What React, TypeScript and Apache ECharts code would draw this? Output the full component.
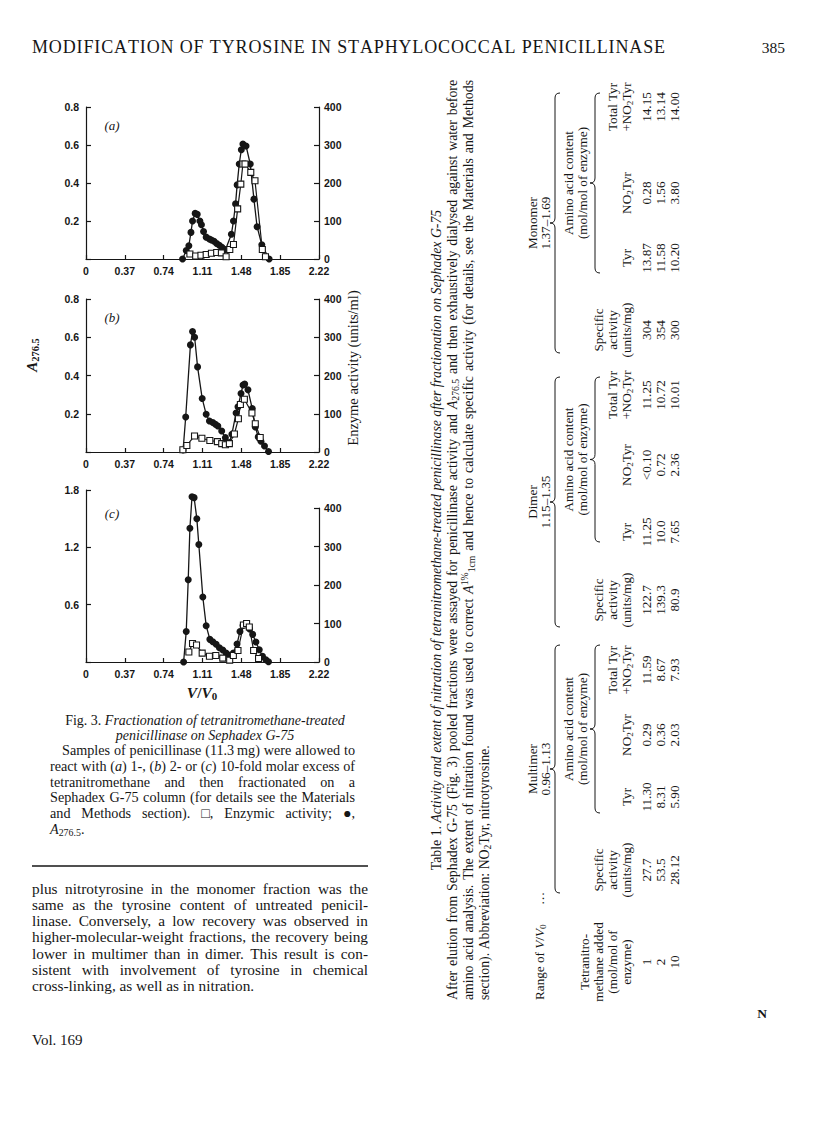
import React, { useEffect, useRef } from "react";
import * as echarts from "echarts";

// ---------------- data ----------------
const X_MAX = 2.22;
const X_INTERVAL = 0.37;
const leftMaxAB = 0.8;
const leftIntervalAB = 0.2;
const leftMaxC = 1.8;
const leftIntervalC = 0.6;
const rightMax = 400;
const rightInterval = 100;

// panel (a): A276.5 (filled circles) and enzyme activity (open squares)
const panelA_A276: number[][] = [
  [0.92, 0], [0.955, 0.045], [0.98, 0.07], [1.0, 0.14], [1.015, 0.2], [1.04, 0.24],
  [1.06, 0.235], [1.085, 0.2], [1.1, 0.18], [1.12, 0.145], [1.145, 0.115], [1.175, 0.105],
  [1.195, 0.1], [1.22, 0.093], [1.245, 0.082], [1.27, 0.072], [1.295, 0.062], [1.33, 0.05],
  [1.385, 0.13], [1.405, 0.2], [1.425, 0.29], [1.44, 0.39], [1.46, 0.5], [1.48, 0.575],
  [1.495, 0.605], [1.525, 0.595], [1.565, 0.5], [1.6, 0.315], [1.63, 0.17], [1.675, 0.075],
  [1.745, 0.0],
];
const panelA_activity: number[][] = [
  [0.99, 13], [1.045, 8], [1.095, 10], [1.145, 12], [1.195, 15], [1.245, 17], [1.29, 16],
  [1.335, 6], [1.37, 25], [1.405, 38], [1.445, 132], [1.475, 197], [1.495, 250], [1.515, 250],
  [1.57, 228], [1.61, 206], [1.68, 25], [1.71, 6],
];

// panel (b)
const panelB_A276: number[][] = [
  [0.925, 0.01], [0.95, 0.183], [0.995, 0.56], [1.015, 0.63], [1.035, 0.6], [1.063, 0.445],
  [1.107, 0.28], [1.145, 0.197], [1.176, 0.162], [1.208, 0.154], [1.233, 0.145], [1.256, 0.136],
  [1.293, 0.11], [1.328, 0.075], [1.366, 0.05], [1.39, 0.093], [1.43, 0.204], [1.448, 0.236],
  [1.477, 0.306], [1.496, 0.35], [1.512, 0.355], [1.543, 0.325], [1.584, 0.227], [1.613, 0.131],
  [1.641, 0.079], [1.667, 0.056], [1.701, 0.031], [1.739, 0.003],
];
const panelB_activity: number[][] = [
  [0.923, 6], [0.961, 17], [1.034, 42], [1.104, 36], [1.18, 30], [1.252, 27], [1.293, 22],
  [1.328, 19], [1.366, 22], [1.414, 47], [1.452, 87], [1.471, 124], [1.509, 138], [1.581, 102],
  [1.613, 74], [1.66, 38],
];

// panel (c)
const panelC_A276: number[][] = [
  [0.93, 0], [0.955, 0.32], [0.974, 0.86], [0.99, 1.4], [1.01, 1.73], [1.03, 1.72],
  [1.056, 1.5], [1.075, 1.23], [1.113, 0.68], [1.145, 0.38], [1.18, 0.237], [1.208, 0.212],
  [1.24, 0.185], [1.271, 0.15], [1.303, 0.125], [1.335, 0.094], [1.366, 0.07], [1.404, 0.094],
  [1.439, 0.188], [1.467, 0.32], [1.496, 0.383], [1.528, 0.4], [1.559, 0.345], [1.588, 0.289],
  [1.619, 0.209], [1.651, 0.129], [1.682, 0.059], [1.714, 0.024], [1.739, 0.003],
];
const panelC_activity: number[][] = [
  [0.98, 26], [1.015, 48], [1.053, 44], [1.107, 23], [1.176, 15], [1.237, 17], [1.303, 10],
  [1.369, 5], [1.404, 17], [1.448, 30], [1.5, 96], [1.53, 100], [1.556, 91], [1.597, 30],
  [1.644, 9],
];

// table values
const tetranitromethaneAdded = ["1", "2", "10"];
const multimerSpecific = ["27.7", "53.5", "28.12"];
const multimerTyr = ["11.30", "8.31", "5.90"];
const multimerNO2Tyr = ["0.29", "0.36", "2.03"];
const multimerTotal = ["11.59", "8.67", "7.93"];
const dimerSpecific = ["122.7", "139.3", "80.9"];
const dimerTyr = ["11.25", "10.0", "7.65"];
const dimerNO2Tyr = ["<0.10", "0.72", "2.36"];
const dimerTotal = ["11.25", "10.72", "10.01"];
const monomerSpecific = ["304", "354", "300"];
const monomerTyr = ["13.87", "11.58", "10.20"];
const monomerNO2Tyr = ["0.28", "1.56", "3.80"];
const monomerTotal = ["14.15", "13.14", "14.00"];

// texts
const headerText = "MODIFICATION OF TYROSINE IN STAPHYLOCOCCAL PENICILLINASE";
const pageNumber = "385";
const captionTitle = [
  "{n|Fig. 3. }{i|Fractionation of tetranitromethane-treated}",
  "{i|penicillinase on Sephadex G-75}",
];
const captionLines = [
  "Samples of penicillinase (11.3\u2009mg) were allowed to",
  "react with ({i|a}) 1-, ({i|b}) 2- or ({i|c}) 10-fold molar excess of",
  "tetranitromethane and then fractionated on a",
  "Sephadex G-75 column (for details see the Materials",
  "and Methods section). \u25a1, Enzymic activity; \u25cf,",
  "{i|A}{sub|276.5}.",
];
const bodyLines = [
  "plus nitrotyrosine in the monomer fraction was the",
  "same as the tyrosine content of untreated penicil-",
  "linase. Conversely, a low recovery was observed in",
  "higher-molecular-weight fractions, the recovery being",
  "lower in multimer than in dimer. This result is con-",
  "sistent with involvement of tyrosine in chemical",
  "cross-linking, as well as in nitration.",
];
const tableTitle =
  "{n|Table 1. }{i|Activity and extent of nitration of tetranitromethane-treated penicillinase after fractionation on Sephadex G-75}";
const tableNote = [
  "After elution from Sephadex G-75 (Fig. 3) pooled fractions were assayed for penicillinase activity and {i|A}{sub|276.5} and then exhaustively dialysed against water before",
  "amino acid analysis. The extent of nitration found was used to correct {i|A}{sup|1%}{sub|1cm} and hence to calculate specific activity (for details, see the Materials and Methods",
  "section). Abbreviation: NO{sub|2}Tyr, nitrotyrosine.",
];

// ---------------- text helpers ----------------
const SERIF = "'Liberation Serif', 'Times New Roman', serif";
const INK = "#161616";
let measureCtx: CanvasRenderingContext2D | null = null;
function textWidth(t: string, font: string): number {
  if (!measureCtx) measureCtx = document.createElement("canvas").getContext("2d");
  measureCtx!.font = font;
  return measureCtx!.measureText(t).width;
}
type Seg = { t: string; s: string };
function parse(word: string): Seg[] {
  const segs: Seg[] = [];
  const re = /\{(\w+)\|([^}]*)\}/g;
  let last = 0;
  let m: RegExpExecArray | null;
  while ((m = re.exec(word))) {
    if (m.index > last) segs.push({ t: word.slice(last, m.index), s: "n" });
    segs.push({ t: m[2], s: m[1] });
    last = re.lastIndex;
  }
  if (last < word.length) segs.push({ t: word.slice(last), s: "n" });
  return segs;
}
function segStyle(key: string, size: number) {
  const small = Math.round(size * 0.7 * 10) / 10;
  const base: any = { fontFamily: SERIF, fill: INK, fontSize: size, lineHeight: Math.round(size * 1.2) };
  switch (key) {
    case "i": return { ...base, fontStyle: "italic" };
    case "b": return { ...base, fontWeight: "bold" };
    case "bi": return { ...base, fontWeight: "bold", fontStyle: "italic" };
    case "sub": return { ...base, fontSize: small, lineHeight: small, verticalAlign: "bottom" };
    case "bsub": return { ...base, fontWeight: "bold", fontSize: small, lineHeight: small, verticalAlign: "bottom" };
    case "sup": return { ...base, fontSize: small, lineHeight: small, verticalAlign: "top" };
    default: return base;
  }
}
function segFont(key: string, size: number) {
  const st = segStyle(key, size);
  return `${st.fontStyle || "normal"} ${st.fontWeight || "normal"} ${st.fontSize}px ${SERIF}`;
}
function richFor(size: number) {
  const r: any = {};
  ["n", "i", "b", "bi", "sub", "bsub", "sup"].forEach((k) => (r[k] = segStyle(k, size)));
  return r;
}
function wordWidth(w: string, size: number) {
  return parse(w).reduce((acc, s) => acc + textWidth(s.t, segFont(s.s, size)), 0);
}
function txt(x: number, y: number, markup: string, size: number, align = "left", extra: any = {}) {
  const text = parse(markup).map((s) => `{${s.s}|${s.t}}`).join("");
  return {
    type: "text",
    x,
    y,
    silent: true,
    ...extra,
    style: {
      text,
      rich: richFor(size),
      fill: INK,
      fontSize: size,
      fontFamily: SERIF,
      align,
      textAlign: align,
      verticalAlign: "middle",
      textVerticalAlign: "middle",
    },
  };
}
function paragraph(lines: string[], x0: number, x1: number, y0: number, dy: number, size: number, indent = 0) {
  const els: any[] = [];
  const space = textWidth(" ", segFont("n", size));
  lines.forEach((line, li) => {
    const words = line.split(" ");
    const ws = words.map((w) => wordWidth(w, size));
    const sum = ws.reduce((a, b) => a + b, 0);
    const start = x0 + (li === 0 ? indent : 0);
    const isLast = li === lines.length - 1;
    let gap = space;
    if (!isLast && words.length > 1) gap = Math.max(space * 0.4, (x1 - start - sum) / (words.length - 1));
    let x = start;
    words.forEach((w, i) => {
      els.push(txt(x, y0 + li * dy, w, size, "left"));
      x += ws[i] + gap;
    });
  });
  return els;
}
function spacedLine(text: string, x0: number, x1: number, y: number, size: number) {
  const chars = text.split("");
  const font = segFont("n", size);
  const ws = chars.map((c) => textWidth(c, font));
  const sum = ws.reduce((a, b) => a + b, 0);
  const extra = (x1 - x0 - sum) / (chars.length - 1);
  const els: any[] = [];
  let x = x0;
  chars.forEach((c, i) => {
    if (c !== " ") els.push(txt(x, y, c, size, "left"));
    x += ws[i] + extra;
  });
  return els;
}
function brace(xa: number, xb: number, y: number, h: number) {
  const xm = (xa + xb) / 2;
  const st = { stroke: INK, fill: null, lineWidth: 1 };
  const q = (x1: number, y1: number, cx: number, cy: number, x2: number, y2: number) => ({
    type: "bezierCurve", silent: true, shape: { x1, y1, x2, y2, cpx1: cx, cpy1: cy }, style: st,
  });
  const ln = (x1: number, y1: number, x2: number, y2: number) => ({
    type: "line", silent: true, shape: { x1, y1, x2, y2 }, style: st,
  });
  return [
    q(xa, y + h, xa, y, xa + h, y),
    ln(xa + h, y, xm - h, y),
    q(xm - h, y, xm, y, xm, y - h),
    q(xm, y - h, xm, y, xm + h, y),
    ln(xm + h, y, xb - h, y),
    q(xb - h, y, xb, y, xb, y + h),
  ];
}

// ---------------- option ----------------
function buildOption() {
  const axisLine = { color: INK, width: 1.2 };
  const labelBase = { color: INK, fontSize: 10.5, fontFamily: "'Liberation Sans', Arial, sans-serif", fontWeight: "bold" as const };
  const grids = [
    { left: 86, width: 233, top: 107, height: 152 },
    { left: 86, width: 233, top: 299, height: 153 },
    { left: 86, width: 233, top: 490, height: 172 },
    { left: 86, width: 233, top: 508, height: 154 },
  ];
  const xAxis = grids.map((_, i) => ({
    type: "value", gridIndex: i, min: 0, max: X_MAX, interval: X_INTERVAL, show: i < 3,
    axisLine: { show: true, onZero: false, lineStyle: axisLine },
    axisTick: { show: true, inside: true, length: 4, lineStyle: axisLine },
    axisLabel: { ...labelBase, margin: 6, formatter: (v: number) => (v === 0 ? "0" : v.toFixed(2)) },
    splitLine: { show: false },
  }));
  const leftAxis = (gi: number, max: number, interval: number) => ({
    type: "value", gridIndex: gi, position: "left", min: 0, max, interval,
    axisLine: { show: true, onZero: false, lineStyle: axisLine },
    axisTick: { show: true, inside: true, length: 5, lineStyle: axisLine },
    axisLabel: { ...labelBase, margin: 7, formatter: (v: number) => (v === 0 ? "" : v.toFixed(1)) },
    splitLine: { show: false },
  });
  const rightAxis = (gi: number) => ({
    type: "value", gridIndex: gi, position: "right", min: 0, max: rightMax, interval: rightInterval,
    axisLine: { show: true, onZero: false, lineStyle: axisLine },
    axisTick: { show: true, inside: true, length: 5, lineStyle: axisLine },
    axisLabel: { ...labelBase, margin: 5, formatter: (v: number) => String(v) },
    splitLine: { show: false },
  });
  const yAxis = [
    leftAxis(0, leftMaxAB, leftIntervalAB), rightAxis(0),
    leftAxis(1, leftMaxAB, leftIntervalAB), rightAxis(1),
    leftAxis(2, leftMaxC, leftIntervalC), rightAxis(3),
  ];
  const dots = (data: number[][], xi: number, yi: number) => ({
    type: "line", xAxisIndex: xi, yAxisIndex: yi, data, symbol: "circle", symbolSize: 7,
    lineStyle: { color: INK, width: 1.3 }, itemStyle: { color: INK, borderWidth: 0 },
    z: 3, silent: true, clip: false,
  });
  const squares = (data: number[][], xi: number, yi: number) => ({
    type: "line", xAxisIndex: xi, yAxisIndex: yi, data, symbol: "rect", symbolSize: 6,
    lineStyle: { color: INK, width: 1.2 }, itemStyle: { color: "#fff", borderColor: INK, borderWidth: 1.1 },
    z: 4, silent: true, clip: false,
  });
  const series = [
    dots(panelA_A276, 0, 0), squares(panelA_activity, 0, 1),
    dots(panelB_A276, 1, 2), squares(panelB_activity, 1, 3),
    dots(panelC_A276, 2, 4), squares(panelC_activity, 3, 5),
  ];

  // ---------- page texts ----------
  const els: any[] = [];
  els.push(...spacedLine(headerText, 32, 665, 47, 18));
  els.push(txt(785, 47, pageNumber, 15.5, "right"));

  // panel labels
  els.push(txt(112, 125, "{i|(a)}", 13, "center"));
  els.push(txt(112, 317, "{i|(b)}", 13, "center"));
  els.push(txt(112, 513, "{i|(c)}", 13, "center"));
  // axis titles
  els.push(txt(32, 355, "{bi|A}{bsub|276.5}", 15, "center", { rotation: Math.PI / 2 }));
  els.push(txt(353, 368, "Enzyme activity (units/ml)", 14.5, "center", { rotation: Math.PI / 2 }));
  els.push(txt(202, 692, "{bi|V}{b|/}{bi|V}{bsub|0}", 15.5, "center"));

  // caption
  els.push(txt(205, 720, captionTitle[0], 14, "center"));
  els.push(txt(205, 735, captionTitle[1], 14, "center"));
  els.push(...paragraph(captionLines, 50, 355, 750, 15.8, 14.2, 12));

  // separator + body
  els.push({ type: "line", silent: true, shape: { x1: 32, y1: 866, x2: 368, y2: 866 }, style: { stroke: INK, lineWidth: 1.3 } });
  els.push(...paragraph(bodyLines, 32, 368, 888, 16.3, 15.3, 0));
  els.push(txt(32, 1040, "Vol. 169", 15, "left"));
  els.push(txt(762, 1013, "{b|N}", 13.5, "center"));

  // ---------- rotated table ----------
  const T = 13.2;
  const TN = 13.8;
  const ch: any[] = [];
  ch.push(txt(465, -14, tableTitle, TN, "center"));
  ch.push(...paragraph(tableNote, 5, 925, 2, 16.2, TN, 0));
  ch.push(txt(5, 89, "Range of {i|V}/{i|V}{sub|0}", T, "left"));
  ch.push(txt(100, 89, "\u2026", T, "left"));
  const groups = [
    { name: "Multimer", range: "0.96\u20131.13", a: 112, b: 360, am: 192, cols: [135, 208, 270, 335], vals: [multimerSpecific, multimerTyr, multimerNO2Tyr, multimerTotal] },
    { name: "Dimer", range: "1.15\u20131.35", a: 378, b: 628, am: 463, cols: [405, 473, 540, 610], vals: [dimerSpecific, dimerTyr, dimerNO2Tyr, dimerTotal] },
    { name: "Monomer", range: "1.37\u20131.69", a: 652, b: 912, am: 732, cols: [675, 747, 812, 898], vals: [monomerSpecific, monomerTyr, monomerNO2Tyr, monomerTotal] },
  ];
  const rowY = [196, 210, 224];
  groups.forEach((g) => {
    const c = (g.a + g.b) / 2;
    ch.push(txt(c, 82, g.name, T, "center"));
    ch.push(txt(c, 95, g.range, T, "center"));
    ch.push(...brace(g.a, g.b, 105, 5));
    const ac = (g.am + g.b) / 2;
    ch.push(txt(ac, 118, "Amino acid content", T, "center"));
    ch.push(txt(ac, 132, "(mol/mol of enzyme)", T, "center"));
    ch.push(...brace(g.am, g.b, 145, 5));
    ch.push(txt(g.cols[0], 148, "Specific", T, "center"));
    ch.push(txt(g.cols[0], 162, "activity", T, "center"));
    ch.push(txt(g.cols[0], 176, "(units/mg)", T, "center"));
    ch.push(txt(g.cols[1], 176, "Tyr", T, "center"));
    ch.push(txt(g.cols[2], 176, "NO{sub|2}Tyr", T, "center"));
    ch.push(txt(g.cols[3], 162, "Total Tyr", T, "center"));
    ch.push(txt(g.cols[3], 176, "+NO{sub|2}Tyr", T, "center"));
    g.vals.forEach((col, ci) => col.forEach((v, ri) => ch.push(txt(g.cols[ci], rowY[ri], v, T, "center"))));
  });
  ["Tetranitro-", "methane added", "(mol/mol of", "enzyme)"].forEach((l, i) => ch.push(txt(43, 134 + i * 14, l, T, "center")));
  tetranitromethaneAdded.forEach((v, ri) => ch.push(txt(43, rowY[ri], v, T, "center")));
  els.push({ type: "group", x: 450, y: 1005, rotation: Math.PI / 2, children: ch });

  return {
    animation: false,
    backgroundColor: "#ffffff",
    grid: grids,
    xAxis,
    yAxis,
    series,
    graphic: { elements: els },
  };
}

export default function App() {
  const ref = useRef<HTMLDivElement>(null);
  useEffect(() => {
    const chart = echarts.init(ref.current!, undefined, { renderer: "svg" });
    chart.setOption(buildOption() as any);
    return () => chart.dispose();
  }, []);
  return (
    <div
      ref={ref}
      style={{ position: "absolute", left: 0, top: 0, width: 816, height: 1136, background: "#fff" }}
    />
  );
}
